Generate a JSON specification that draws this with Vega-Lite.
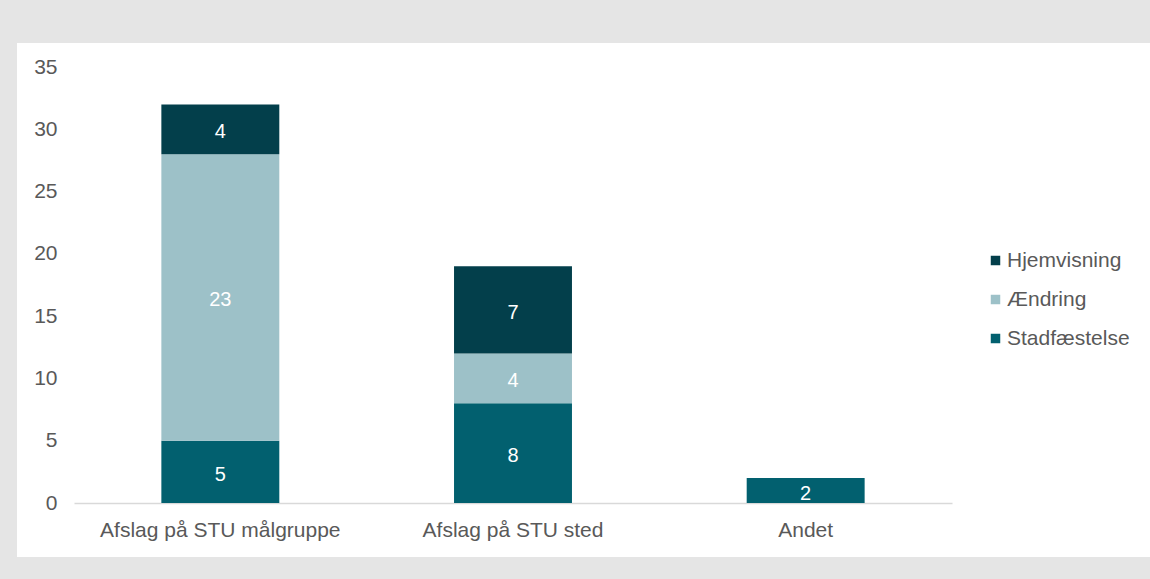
{
  "$schema": "https://vega.github.io/schema/vega-lite/v6.json",
  "autosize": "none",
  "width": 1133,
  "height": 514,
  "padding": {"left": 17, "top": 43, "right": 0, "bottom": 22},
  "background": "#e5e5e5",
  "config": {
    "view": {"fill": "white", "stroke": null},
    "font": "Liberation Sans"
  },
  "data": {
    "values": [
      {"kategori": "Afslag på STU målgruppe", "type": "Stadfæstelse", "value": 5},
      {"kategori": "Afslag på STU målgruppe", "type": "Ændring", "value": 23},
      {"kategori": "Afslag på STU målgruppe", "type": "Hjemvisning", "value": 4},
      {"kategori": "Afslag på STU sted", "type": "Stadfæstelse", "value": 8},
      {"kategori": "Afslag på STU sted", "type": "Ændring", "value": 4},
      {"kategori": "Afslag på STU sted", "type": "Hjemvisning", "value": 7},
      {"kategori": "Andet", "type": "Stadfæstelse", "value": 2}
    ]
  },
  "transform": [
    {"stack": "value", "groupby": ["kategori"], "as": ["s0", "s1"]}
  ],
  "encoding": {
    "x": {
      "field": "kategori",
      "type": "nominal",
      "sort": ["Afslag på STU målgruppe", "Afslag på STU sted", "Andet"],
      "scale": {"type": "band", "range": [57, 935], "paddingInner": 0.597, "paddingOuter": 0.2985},
      "axis": {
        "title": null,
        "orient": "bottom",
        "offset": -54,
        "labelAngle": 0,
        "labelLimit": 0,
        "ticks": false,
        "tickSize": 0,
        "labelPadding": 16,
        "labelFontSize": 21,
        "labelColor": "#595959",
        "domainColor": "#d9d9d9",
        "domainWidth": 1.5,
        "grid": false
      }
    }
  },
  "layer": [
    {
      "mark": {"type": "bar"},
      "encoding": {
        "y": {
          "field": "s0",
          "type": "quantitative",
          "scale": {"domain": [-4.335, 36.93], "nice": false, "zero": false},
          "axis": {
            "title": null,
            "values": [0, 5, 10, 15, 20, 25, 30, 35],
            "offset": -40,
            "ticks": false,
            "tickSize": 0,
            "labelPadding": 0,
            "domain": false,
            "grid": false,
            "labelFontSize": 21,
            "labelColor": "#595959"
          }
        },
        "y2": {"field": "s1"},
        "color": {
          "field": "type",
          "type": "nominal",
          "scale": {
            "domain": ["Hjemvisning", "Ændring", "Stadfæstelse"],
            "range": ["#033f4b", "#9dc1c8", "#02606f"]
          },
          "legend": {
            "title": null,
            "orient": "none",
            "legendX": 968,
            "legendY": 207,
            "padding": 0,
            "symbolType": "square",
            "symbolSize": 90,
            "symbolStrokeWidth": 0,
            "labelFontSize": 21,
            "labelColor": "#595959",
            "labelOffset": 1,
            "rowPadding": 17
          }
        }
      }
    },
    {
      "transform": [
        {"fold": ["s0", "s1"], "as": ["edge", "pos"]},
        {"aggregate": [{"op": "mean", "field": "pos", "as": "mid"}], "groupby": ["kategori", "type", "value"]}
      ],
      "mark": {"type": "text", "color": "white", "fontSize": 20, "align": "center", "baseline": "middle", "dy": 3},
      "encoding": {
        "y": {
          "field": "mid",
          "type": "quantitative",
          "axis": {
            "title": null,
            "values": [0, 5, 10, 15, 20, 25, 30, 35],
            "offset": -40,
            "ticks": false,
            "tickSize": 0,
            "labelPadding": 0,
            "domain": false,
            "grid": false,
            "labelFontSize": 21,
            "labelColor": "#595959"
          }
        },
        "text": {"field": "value", "type": "quantitative"}
      }
    }
  ]
}
